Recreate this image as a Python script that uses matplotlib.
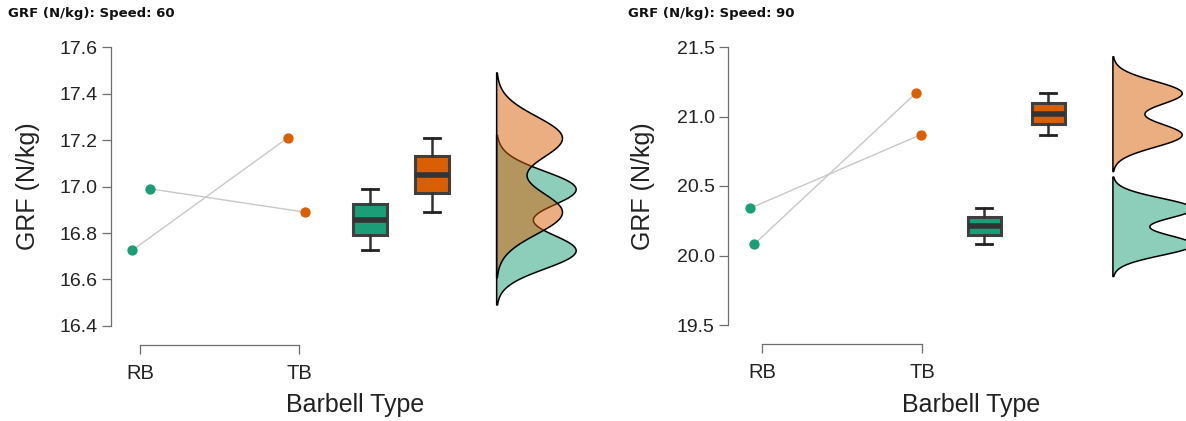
#!/usr/bin/env python3
"""Raincloud plots of GRF (N/kg) by barbell type at two speeds."""

import matplotlib
matplotlib.use("Agg")
import matplotlib.pyplot as plt
import numpy as np
from matplotlib.colors import to_rgba

CATEGORIES = ["RB", "TB"]
GREEN = "#1b9e77"
ORANGE = "#d95f02"

# paired observations (subject i: RB[i] -> TB[i])
SPEED60_RB = [16.99, 16.725]
SPEED60_TB = [16.89, 17.21]
SPEED90_RB = [20.34, 20.08]
SPEED90_TB = [20.87, 21.17]

SPEED60_TICKS = [16.4, 16.6, 16.8, 17.0, 17.2, 17.4, 17.6]
SPEED90_TICKS = [19.5, 20.0, 20.5, 21.0, 21.5]

W, H = 1186, 421


def nrd0(x):
    x = np.asarray(x, float)
    q1, q3 = np.percentile(x, [25, 75])
    lo = min(np.std(x, ddof=1), (q3 - q1) / 1.34)
    return 0.9 * lo * len(x) ** -0.2


def kde(x, n=512):
    x = np.asarray(x, float)
    bw = nrd0(x)
    grid = np.linspace(x.min() - 3 * bw, x.max() + 3 * bw, n)
    d = np.exp(-0.5 * ((grid[:, None] - x[None, :]) / bw) ** 2).sum(axis=1)
    return grid, d / (len(x) * bw * np.sqrt(2 * np.pi))


def panel(ax_px, xlim, ticks, rb, tb, jitter, box_pos, dens_base, title, title_x,
          ylab_x, xlab_x):
    left, right, top, bottom = ax_px
    fig = plt.gcf()
    ax = fig.add_axes([left / W, 1 - bottom / H, (right - left) / W, (bottom - top) / H])
    ax.set_xlim(*xlim)
    ax.set_ylim(ticks[0], ticks[-1])

    # connecting lines and points
    xr = [1 + j for j in jitter[0]]
    xt = [2 + j for j in jitter[1]]
    for a, b, ya, yb in zip(xr, xt, rb, tb):
        ax.plot([a, b], [ya, yb], color="#c8c8c8", lw=1.0, zorder=1)
    ax.scatter(xr, rb, s=55, color=GREEN, zorder=3, linewidths=0)
    ax.scatter(xt, tb, s=55, color=ORANGE, zorder=3, linewidths=0)

    # boxplots
    bp = ax.boxplot([rb, tb], positions=box_pos, widths=0.21, patch_artist=True,
                    showfliers=False, whis=(0, 100), manage_ticks=False)
    for patch, c in zip(bp["boxes"], [GREEN, ORANGE]):
        patch.set_facecolor(c)
        patch.set_edgecolor("#3f3f3f")
        patch.set_linewidth(2.2)
    for line in bp["medians"]:
        line.set_color("#333333")
        line.set_linewidth(4.0)
    for line in bp["whiskers"]:
        line.set_color("#333333")
        line.set_linewidth(1.8)
    for line in bp["caps"]:
        line.set_color("#222222")
        line.set_linewidth(2.0)
        mid = np.mean(line.get_xdata())
        line.set_xdata([mid - 0.05, mid + 0.05])

    # half densities (orange drawn over green)
    dens = [kde(rb), kde(tb)]
    dmax = max(d.max() for _, d in dens)
    for (g, d), c in zip(dens, [GREEN, ORANGE]):
        ax.fill_betweenx(g, dens_base, dens_base + 0.5 * d / dmax,
                         facecolor=to_rgba(c, 0.5), edgecolor="black", lw=1.1, zorder=2)

    for s in ["top", "right"]:
        ax.spines[s].set_visible(False)
    ax.spines["left"].set_bounds(ticks[0], ticks[-1])
    ax.spines["bottom"].set_bounds(1, 2)
    ax.spines["bottom"].set_position(("outward", 14))
    for s in ["left", "bottom"]:
        ax.spines[s].set_color("#6e6e6e")
        ax.spines[s].set_linewidth(0.9)
    ax.set_yticks(ticks)
    ax.set_yticklabels([f"{t:.1f}" for t in ticks])
    ax.set_xticks([1, 2])
    ax.set_xticklabels(CATEGORIES)
    ax.tick_params(axis="y", length=6.5, width=0.9, color="#6e6e6e", pad=3,
                   labelsize=14, labelcolor="#222222")
    ax.tick_params(axis="x", length=6.5, width=0.9, color="#6e6e6e", pad=7,
                   labelsize=14.5, labelcolor="#222222")
    for lab in ax.get_xticklabels() + ax.get_yticklabels():
        lab.set_fontfamily("Liberation Sans")

    fig.text(title_x / W, 1 - 14 / H, title, fontsize=9.5, fontweight="bold",
             family="DejaVu Sans", va="center", ha="left", color="#111111")
    fig.text(ylab_x / W, 1 - 186 / H, "GRF (N/kg)", rotation=90, fontsize=18,
             family="Liberation Sans", ha="center", va="center", color="#222222")
    fig.text(xlab_x / W, 1 - 405 / H, "Barbell Type", fontsize=18,
             family="Liberation Sans", ha="center", va="center", color="#222222")
    return ax


fig = plt.figure(figsize=(W / 100, H / 100), dpi=100)

panel((111, 593, 47, 326), (1 - 29 / 159, 1 + 453 / 159), SPEED60_TICKS,
      SPEED60_RB, SPEED60_TB, ([0.063, -0.05], [0.035, -0.07]),
      [2.447, 2.836], 3.24, "GRF (N/kg): Speed: 60", 8, 28, 355)
panel((728, 1186, 47, 325), (1 - 34 / 160, 1 + 424 / 160), SPEED90_TICKS,
      SPEED90_RB, SPEED90_TB, ([-0.075, -0.05], [-0.006, -0.037]),
      [2.39, 2.79], 3.19, "GRF (N/kg): Speed: 90", 628, 643, 971)

fig.savefig("out.png", dpi=100)
